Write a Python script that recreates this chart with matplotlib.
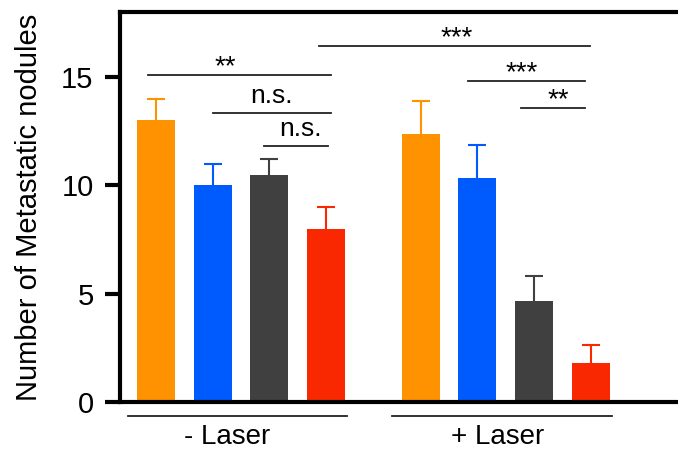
import numpy as np
import matplotlib.pyplot as plt

plt.rcParams['font.family'] = ['Liberation Sans', 'DejaVu Sans']

groups = ["- Laser", "+ Laser"]
means_off = [13.0, 10.0, 10.5, 8.0]
err_off = [1.0, 1.0, 0.7, 1.0]
means_on = [12.35, 10.33, 4.65, 1.8]
err_on = [1.55, 1.53, 1.17, 0.82]
colors = ["#FF9200", "#005BFF", "#404040", "#FA2800"]
yticks = [0, 5, 10, 15]

# significance brackets: x from, x to, height, label, label shift
sig = [
    (-0.14, 3.09, 15.1, "**", -0.26),
    (1.0, 3.09, 13.35, "n.s.", 0.0),
    (1.9, 3.03, 11.82, "n.s.", 0.09),
    (2.87, 7.65, 16.42, "***", 0.05),
    (5.5, 7.57, 14.81, "***", -0.08),
    (6.44, 7.57, 13.55, "**", 0.09),
]

fig = plt.figure(figsize=(6.78, 4.5), dpi=100)
ax = fig.add_axes([120/678, 48/450, 570/678, 390/450])

x_off = np.arange(4)
x_on = np.arange(4) + 4.67
for xs, ms, es in [(x_off, means_off, err_off), (x_on, means_on, err_on)]:
    for x, m, e, c in zip(xs, ms, es, colors):
        ax.bar(x, m, width=0.67, color=c, zorder=2)
        _, caps, _ = ax.errorbar(x, m, yerr=[[0], [e]], color=c, capsize=6.5,
                                 capthick=1.5, elinewidth=1.5, zorder=1)
        caps[0].set_visible(False)

for x0, x1, y, lab, dx in sig:
    ax.plot([x0, x1], [y, y], color="#222222", lw=1.3, clip_on=False)
    if lab == "n.s.":
        ax.text((x0 + x1) / 2 + dx, y + 0.45, lab, ha="center", va="baseline", fontsize=19)
    else:
        ax.text((x0 + x1) / 2 + dx, y + 0.05, lab, ha="center", va="baseline", fontsize=20)

# group underlines and labels
for xs, g, dx in zip([x_off, x_on], groups, [-0.25, -0.15]):
    ax.plot([xs[0] - 0.5, xs[-1] + 0.37], [-0.65, -0.65], color="#222222", lw=1.3, clip_on=False)
    ax.text((xs[0] + xs[-1]) / 2 + dx, -1.6, g, ha="center", va="center", fontsize=20)

ax.set_xlim(-0.635, 9.42)
ax.set_ylim(0, 18)
ax.set_yticks(yticks)
ax.set_yticklabels([str(t) for t in yticks], fontsize=21)
ax.set_xticks([])
ax.set_ylabel("Number of Metastatic nodules", fontsize=21, labelpad=13)
ax.spines["right"].set_visible(False)
for s in ["left", "top", "bottom"]:
    ax.spines[s].set_linewidth(3)
ax.tick_params(axis="y", width=3, length=11, pad=8)

plt.savefig("out.png", dpi=100)
